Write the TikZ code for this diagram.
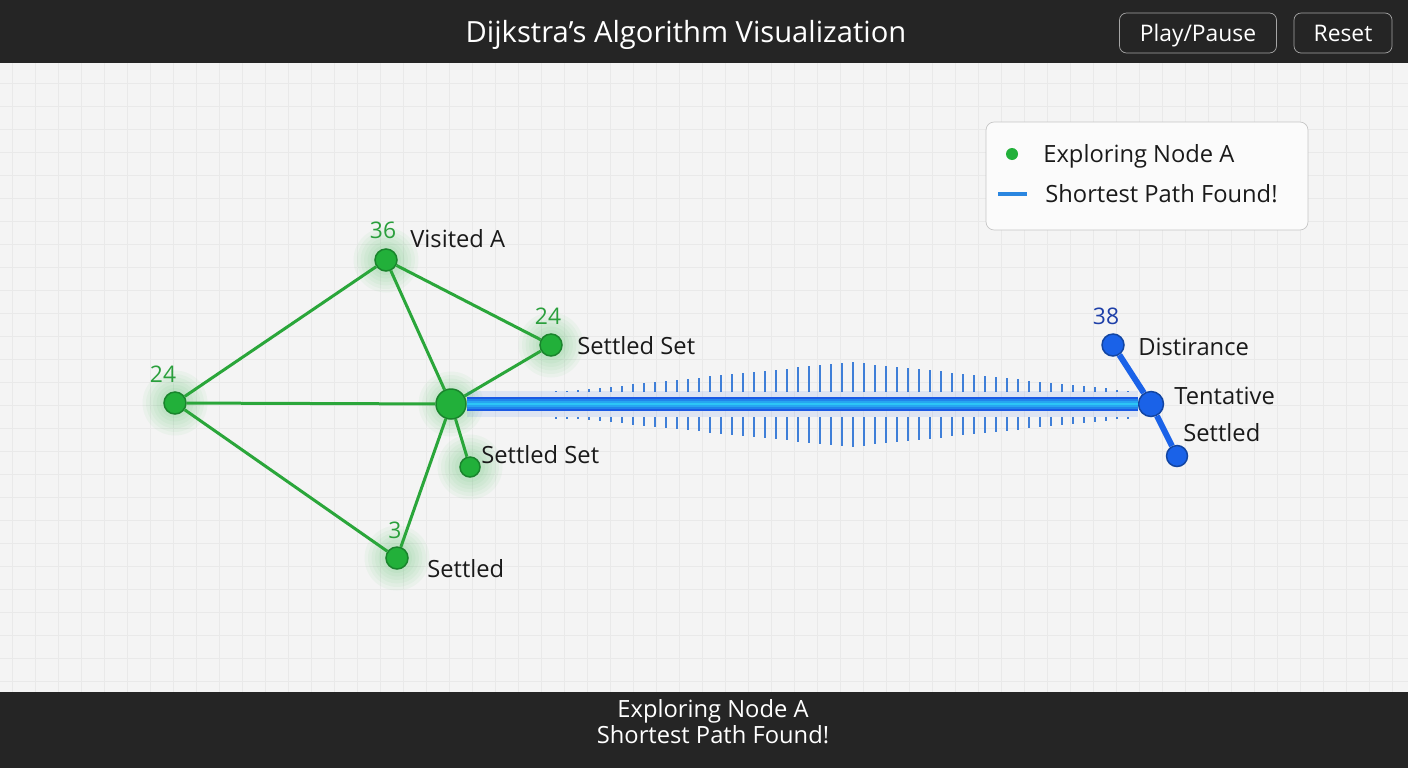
\documentclass[tikz,border=0pt]{standalone}
\usepackage{fontspec}
\setmainfont{Open Sans}

\definecolor{barbg}{HTML}{252525}
\definecolor{bggray}{HTML}{F4F4F4}
\definecolor{gridgray}{HTML}{E9E9E9}
\definecolor{nodegreen}{HTML}{22B03A}
\definecolor{edgegreen}{HTML}{2AA63A}
\definecolor{numgreen}{HTML}{2A9F3C}
\definecolor{nodeblue}{HTML}{1A62E8}
\definecolor{pathblue}{HTML}{1A5AE4}
\definecolor{pathcyan}{HTML}{2CC6F6}
\definecolor{tickblue}{HTML}{3F7FD8}
\definecolor{numblue}{HTML}{1E3FA8}
\definecolor{textdark}{HTML}{1A1A1A}
\definecolor{legendblue}{HTML}{2A86E0}

\begin{document}
\begin{tikzpicture}[x=0.02cm, y=-0.02cm,
	gnode/.style={circle, fill=nodegreen, draw=nodegreen!75!black, line width=0.03cm, inner sep=0pt},
	bnode/.style={circle, fill=nodeblue, draw=nodeblue!70!black, line width=0.03cm, inner sep=0pt},
	gedge/.style={draw=edgegreen, line width=0.06cm},
	bedge/.style={draw=nodeblue, line width=0.12cm},
	lbl/.style={font=\fontsize{13.5}{15}\selectfont, text=textdark, inner sep=0pt, text height=9.6pt, text depth=0pt},
	num/.style={font=\fontsize{13}{15}\selectfont, text=numgreen, inner sep=0pt, text height=9.3pt, text depth=0pt},
	btn/.style={draw=gray!70, fill=barbg, rounded corners=0.14cm, text=white, font=\fontsize{13}{15}\selectfont, text height=9.3pt, text depth=0pt},
	]
	%\draw[lightgray] (0, 0) grid (1408, 768);
	\useasboundingbox (0, 0) rectangle (1408, 768);
	\fill[bggray] (0, 0) rectangle (1408, 768);
	\foreach \x in {12,35,...,1408}
		\draw[gridgray, line width=0.02cm] (\x, 63) -- (\x, 692);
	\foreach \y in {83,106,...,692}
		\draw[gridgray, line width=0.02cm] (0, \y) -- (1408, \y);
	
	% header
	\fill[barbg] (0, 0) rectangle (1408, 63);
	\node[text=white, font=\fontsize{16.6}{20}\selectfont, text height=11.9pt, text depth=0pt] (title) at (686, 32) {Dijkstra's Algorithm Visualization};
	\node[btn, minimum width=3.14cm, minimum height=0.8cm] (play) at (1198, 33) {Play/Pause};
	\node[btn, minimum width=1.96cm, minimum height=0.8cm] (reset) at (1343, 33) {Reset};
	
	% legend
	\node[draw=gray!45, fill=white!60!bggray, rounded corners=0.16cm, minimum width=6.44cm, minimum height=2.16cm] (legend) at (1147, 176) {};
	\node[circle, fill=nodegreen, minimum size=0.24cm, inner sep=0pt] (ldot) at (1012, 154) {};
	\node[lbl, anchor=west] (lexp) at (1043, 154) {Exploring Node A};
	\coordinate (la) at (998, 194);
	\coordinate (lb) at (1027, 194);
	\draw[legendblue, line width=0.07cm] (la) -- (lb);
	\node[lbl, anchor=west] (lpath) at (1045, 194) {Shortest Path Found!};
	
	% glow
	\coordinate (pL) at (175, 403);
	\coordinate (pT) at (386, 260);
	\coordinate (pS1) at (551, 345);
	\coordinate (pC) at (451, 404);
	\coordinate (pS2) at (470, 467);
	\coordinate (pB) at (397, 558);
	\foreach \p in {pL,pT,pS1,pC,pS2,pB}
		\foreach \r in {0.30,0.37,...,0.70}
			\fill[nodegreen, opacity=0.045] (\p) circle (\r cm);
	
	% ticks along the path
	\foreach \i in {0,...,52} {
		\pgfmathsetmacro\tx{556+11*\i}
		\pgfmathsetmacro\th{max(1.5, 30*(1-abs(\tx-850)/290))}
		\draw[tickblue, line width=0.035cm] (\tx, 392) -- (\tx, {392-\th});
		\draw[tickblue, line width=0.035cm] (\tx, 417) -- (\tx, {417+\th});
	}
	
	% green graph
	\node[gnode, minimum size=0.44cm] (L) at (pL) {};
	\node[gnode, minimum size=0.44cm] (T) at (pT) {};
	\node[gnode, minimum size=0.44cm] (S1) at (pS1) {};
	\node[gnode, minimum size=0.60cm] (C) at (pC) {};
	\node[gnode, minimum size=0.40cm] (S2) at (pS2) {};
	\node[gnode, minimum size=0.44cm] (B) at (pB) {};
	
	\draw[gedge] (L) -- (T);
	\draw[gedge] (L) -- (C);
	\draw[gedge] (L) -- (B);
	\draw[gedge] (T) -- (C);
	\draw[gedge] (T) -- (S1);
	\draw[gedge] (C) -- (S1);
	\draw[gedge] (C) -- (S2);
	\draw[gedge] (C) -- (B);
	
	% blue part
	\node[bnode, minimum size=0.50cm] (R) at (1151, 404) {};
	\node[bnode, minimum size=0.44cm] (D) at (1113, 345) {};
	\node[bnode, minimum size=0.42cm] (E) at (1177, 456) {};
	
	\draw[pathblue, line width=0.52cm, opacity=0.10] (C) -- (R);
	\draw[pathblue, line width=0.28cm] (C) -- (R);
	\draw[pathblue!60!pathcyan, line width=0.19cm] (C) -- (R);
	\draw[pathblue!30!pathcyan, line width=0.12cm] (C) -- (R);
	\draw[pathcyan, line width=0.05cm] (C) -- (R);
	\draw[bedge] (D) -- (R);
	\draw[bedge] (R) -- (E);
	
	% labels
	\node[num] (nL) at (163, 374) {24};
	\node[num] (nT) at (383, 230) {36};
	\node[num] (nS1) at (548, 316) {24};
	\node[num] (nB) at (395, 530) {3};
	\node[num, text=numblue] (nD) at (1106, 316) {38};
	
	\node[lbl, anchor=west] (tT) at (410, 239) {Visited A};
	\node[lbl, anchor=west] (tS1) at (577, 346) {Settled Set};
	\node[lbl, anchor=west] (tS2) at (481, 455) {Settled Set};
	\node[lbl, anchor=west] (tB) at (427, 569) {Settled};
	\node[lbl, anchor=west] (tD) at (1138, 347) {Distirance};
	\node[lbl, anchor=west] (tR) at (1174, 396) {Tentative};
	\node[lbl, anchor=west] (tE) at (1183, 433) {Settled};
	
	% footer
	\fill[barbg] (0, 692) rectangle (1408, 768);
	\node[text=white, font=\fontsize{13.5}{15}\selectfont, text height=9.6pt, text depth=0pt] (f1) at (713, 709) {Exploring Node A};
	\node[text=white, font=\fontsize{13.5}{15}\selectfont, text height=9.6pt, text depth=0pt] (f2) at (713, 735) {Shortest Path Found!};
\end{tikzpicture}
\end{document}
